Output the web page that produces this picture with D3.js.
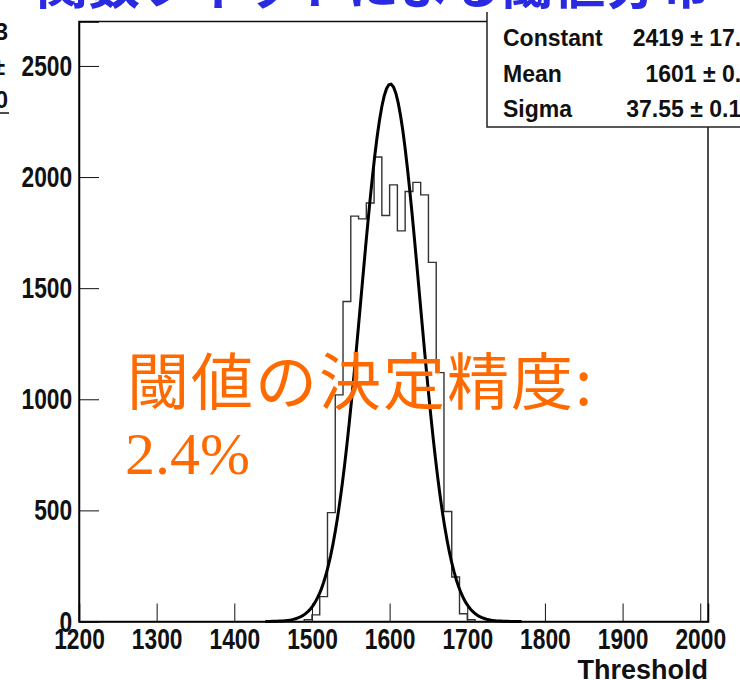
<!DOCTYPE html>
<html>
<head>
<meta charset="utf-8">
<script src="https://cdn.jsdelivr.net/npm/d3@7"></script>
<style>
  body { margin: 0; background: #fff; }
  svg { display: block; }
  .lbl { font-family: "Liberation Sans", Arial, sans-serif; font-weight: bold; fill: #111; }
</style>
</head>
<body>
<svg width="740" height="680"></svg>
<script>
// histogram bins (lower edge, width 10)
const binStarts = [1490, 1500, 1510, 1520, 1530, 1540, 1550, 1560, 1570, 1580, 1590,
                   1600, 1610, 1620, 1630, 1640, 1650, 1660, 1670, 1680, 1690, 1700]
const binCounts = [8, 30, 112, 490, 1020, 1440, 1824, 1812, 1883, 2090, 1827,
                   1965, 1758, 1935, 1976, 1920, 1616, 1120, 495, 200, 35, 8]
const binWidth = 10

// gaussian fit parameters from the stats box
const fitNames = ["Constant", "Mean", "Sigma"]
const fitValues = [2419, 1601, 37.55]
const fitTexts = ["2419 \u00b1 17.6", "1601 \u00b1 0.2", "37.55 \u00b1 0.17"]

const xTicks = [1200, 1300, 1400, 1500, 1600, 1700, 1800, 1900, 2000]
const yTicks = [0, 500, 1000, 1500, 2000, 2500]

const svg = d3.select("svg")

const x = d3.scaleLinear().domain([1200, 2010]).range([79, 708])
const y = d3.scaleLinear().domain([0, 2700]).range([621.5, 21.5])

// frame
svg.append("rect")
    .attr("x", x(1200)).attr("y", y(2700))
    .attr("width", x(2010) - x(1200)).attr("height", y(0) - y(2700))
    .attr("fill", "none").attr("stroke", "#111").attr("stroke-width", 1.5)

// tall narrow tick labels like the original
function styleLabels(g) {
    g.selectAll("text")
        .attr("class", "lbl")
        .attr("font-size", 30)
        .attr("font-family", null)
        .attr("transform", "scale(0.76,1)")
}

// x axis, ticks pointing up
const gx = svg.append("g").attr("transform", `translate(0,${y(0)})`)
gx.call(d3.axisBottom(x).tickValues(d3.range(1200, 2001, 20)).tickSize(-9).tickFormat(""))
gx.call(d3.axisBottom(x).tickValues(xTicks).tickSize(-18).tickPadding(6).tickFormat(d3.format("d")))
styleLabels(gx)
gx.selectAll(".domain").attr("stroke-width", 1.5)
gx.selectAll("line").attr("stroke", "#111")

// y axis
const gy = svg.append("g").attr("transform", `translate(${x(1200)},0)`)
gy.call(d3.axisLeft(y).tickValues(d3.range(0, 2701, 100)).tickSize(-10).tickFormat(""))
gy.call(d3.axisLeft(y).tickValues(yTicks).tickSize(-20).tickPadding(9).tickFormat(d3.format("d")))
styleLabels(gy)
gy.selectAll(".domain").attr("stroke-width", 1.5)
gy.selectAll("line").attr("stroke", "#111")

// histogram outline
const histPts = [[binStarts[0], 0]]
binStarts.forEach((b, i) => histPts.push([b, binCounts[i]]))
histPts.push([binStarts[binStarts.length - 1] + binWidth, 0])

svg.append("path")
    .datum(histPts)
    .attr("fill", "none")
    .attr("stroke", "#333")
    .attr("stroke-width", 1.4)
    .attr("d", d3.line().x(d => x(d[0])).y(d => y(d[1])).curve(d3.curveStepAfter))

// fit curve
const [c, mu, sig] = fitValues
const fitPts = d3.range(1440, 1772, 3).map(t => [t, c * Math.exp(-0.5 * ((t - mu) / sig) ** 2)])
svg.append("path")
    .datum(fitPts)
    .attr("fill", "none")
    .attr("stroke", "#000")
    .attr("stroke-width", 3)
    .attr("d", d3.line().x(d => x(d[0])).y(d => y(d[1])))

// annotation
svg.append("text")
    .attr("x", 127).attr("y", 405)
    .attr("font-family", "Noto Sans CJK JP")
    .attr("font-size", 62)
    .attr("letter-spacing", 2)
    .attr("fill", "#ff6a00")
    .text("閾値の決定精度:")
svg.append("text")
    .attr("x", 125).attr("y", 474)
    .attr("font-family", "Liberation Serif, serif")
    .attr("font-size", 60)
    .attr("fill", "#ff6a00")
    .text("2.4%")

// stats box (top edge hidden under the slide title)
const box = svg.append("g")
box.append("rect")
    .attr("x", 487).attr("y", 12).attr("width", 280).attr("height", 115)
    .attr("fill", "#fff")
box.append("path")
    .attr("d", "M487,12V127H760")
    .attr("fill", "none").attr("stroke", "#222").attr("stroke-width", 1.5)
fitNames.forEach((n, i) => {
    box.append("text").attr("class", "lbl").attr("font-size", 23)
        .attr("x", 503).attr("y", 46 + i * 35.5).text(n)
    box.append("text").attr("class", "lbl").attr("font-size", 23)
        .attr("x", 754).attr("y", 46 + i * 35.5).attr("text-anchor", "end").text(fitTexts[i])
})

// axis title
svg.append("text").attr("class", "lbl").attr("font-size", 27)
    .attr("x", 708).attr("y", 679).attr("text-anchor", "end").text("Threshold")

// slide title (cut off at top)
svg.append("text")
    .attr("x", 36).attr("y", 4)
    .attr("font-family", "Noto Sans CJK JP").attr("font-weight", "bold")
    .attr("font-size", 52).attr("fill", "#2a2ae0")
    .text("関数フィットによる閾値分布")

// pieces of the neighbouring panel
svg.append("text").attr("class", "lbl").attr("font-size", 23).attr("x", 8).attr("y", 40).attr("text-anchor", "end").text("3")
svg.append("text").attr("class", "lbl").attr("font-size", 23).attr("x", 5).attr("y", 75).attr("text-anchor", "end").text("±")
svg.append("text").attr("class", "lbl").attr("font-size", 23).attr("x", 8).attr("y", 108).attr("text-anchor", "end").text("0")
svg.append("line").attr("x1", 0).attr("x2", 9).attr("y1", 113).attr("y2", 113).attr("stroke", "#111").attr("stroke-width", 1.5)
</script>
</body>
</html>
